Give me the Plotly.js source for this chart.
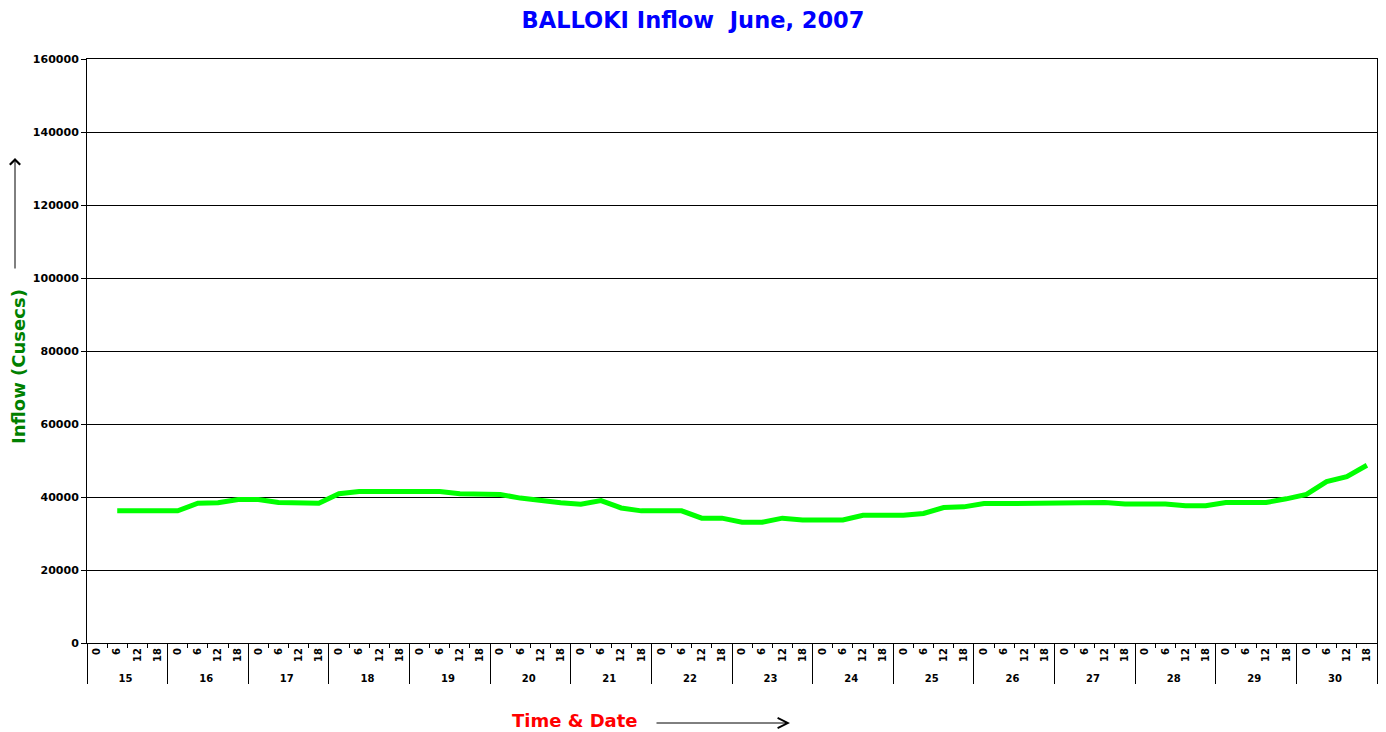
<!DOCTYPE html>
<html>
<head>
<meta charset="utf-8">
<script src="https://cdn.plot.ly/plotly-3.0.1.min.js"></script>
<style>html,body{margin:0;padding:0;background:#fff;}#chart{width:1386px;height:732px;}</style>
</head>
<body>
<div id="chart"></div>
<script>
const days = ["15","16","17","18","19","20","21","22","23","24","25","26","27","28","29","30"];
const hours = ["0","6","12","18"];
// Inflow (cusecs), day by day, hours 0/6/12/18 (first reading missing)
const inflow15 = [null, 36200, 36200, 36200];
const inflow16 = [36200, 38300, 38400, 39300];
const inflow17 = [39300, 38500, 38500, 38300];
const inflow18 = [40900, 41500, 41500, 41500];
const inflow19 = [41500, 41500, 40900, 40700];
const inflow20 = [40700, 39700, 39000, 38400];
const inflow21 = [38000, 39000, 37000, 36200];
const inflow22 = [36200, 36200, 34200, 34200];
const inflow23 = [33100, 33100, 34200, 33700];
const inflow24 = [33700, 33700, 35000, 35000];
const inflow25 = [35000, 35500, 37100, 37300];
const inflow26 = [38200, 38200, 38200, 38200];
const inflow27 = [38200, 38500, 38500, 38100];
const inflow28 = [38100, 38100, 37600, 37600];
const inflow29 = [38500, 38500, 38500, 39500];
const inflow30 = [40700, 44200, 45600, 48700];
const yTicks = [0, 20000, 40000, 60000, 80000, 100000, 120000, 140000, 160000];

const inflowByDay = [inflow15, inflow16, inflow17, inflow18, inflow19, inflow20, inflow21, inflow22,
  inflow23, inflow24, inflow25, inflow26, inflow27, inflow28, inflow29, inflow30];

const xDay = [], xHour = [], yVal = [];
days.forEach((d, i) => {
  hours.forEach((h, j) => {
    xDay.push(d); xHour.push(h); yVal.push(inflowByDay[i][j]);
  });
});

const FONT = "DejaVu Sans, Arial, sans-serif";

const trace = {
  type: "scatter",
  mode: "lines",
  x: [xDay, xHour],
  y: yVal,
  line: {color: "#00FF00", width: 5},
  connectgaps: false,
  hoverinfo: "x+y"
};

const nCat = days.length * hours.length;

const layout = {
  width: 1386, height: 732,
  paper_bgcolor: "#ffffff", plot_bgcolor: "#ffffff",
  margin: {l: 87, r: 9, t: 59, b: 89},
  showlegend: false,
  title: {
    text: "BALLOKI Inflow&nbsp;&nbsp;June, 2007",
    font: {family: FONT, size: 22.5, color: "#0000FF", weight: "bold"},
    x: 0.5, xanchor: "center", y: 0.973, yanchor: "middle"
  },
  xaxis: {
    type: "multicategory",
    range: [-0.5, nCat - 0.5],
    showline: true, linecolor: "#000", linewidth: 1,
    mirror: true,
    ticks: "outside", ticklen: 4, tickcolor: "#000",
    tickangle: -90,
    tickfont: {family: FONT, size: 10, color: "#000", weight: "bold"},
    showdividers: true, dividercolor: "#000", dividerwidth: 1,
    showgrid: false, zeroline: false
  },
  yaxis: {
    range: [0, 160000],
    tickvals: yTicks,
    ticktext: yTicks.map(String),
    showline: true, linecolor: "#000", linewidth: 1,
    mirror: true,
    ticks: "outside", ticklen: 5, tickcolor: "#000",
    tickfont: {family: FONT, size: 11, color: "#000", weight: "bold"},
    showgrid: true, gridcolor: "#000", gridwidth: 1,
    zeroline: false
  },
  annotations: [
    {
      text: "Inflow (Cusecs)", textangle: -90,
      xref: "paper", yref: "paper",
      x: (18 - 87) / 1290, y: (643 - 367) / 584,
      xanchor: "center", yanchor: "middle", showarrow: false,
      font: {family: FONT, size: 18, color: "#008000", weight: "bold"}
    },
    {
      text: "", xref: "paper", yref: "paper",
      x: (15 - 87) / 1290, y: (643 - 158) / 584,
      ax: 0, ay: 112, axref: "pixel", ayref: "pixel",
      showarrow: true, arrowhead: 4, arrowsize: 2, arrowwidth: 1, arrowcolor: "#000"
    },
    {
      text: "Time & Date",
      xref: "paper", yref: "paper",
      x: (575 - 87) / 1290, y: (643 - 720) / 584,
      xanchor: "center", yanchor: "middle", showarrow: false,
      font: {family: FONT, size: 18, color: "#FF0000", weight: "bold"}
    },
    {
      text: "", xref: "paper", yref: "paper",
      x: (790 - 87) / 1290, y: (643 - 723) / 584,
      ax: -135, ay: 0, axref: "pixel", ayref: "pixel",
      showarrow: true, arrowhead: 5, arrowsize: 2, arrowwidth: 1, arrowcolor: "#000"
    }
  ]
};

Plotly.newPlot("chart", [trace], layout, {displayModeBar: false, staticPlot: true});
</script>
</body>
</html>
